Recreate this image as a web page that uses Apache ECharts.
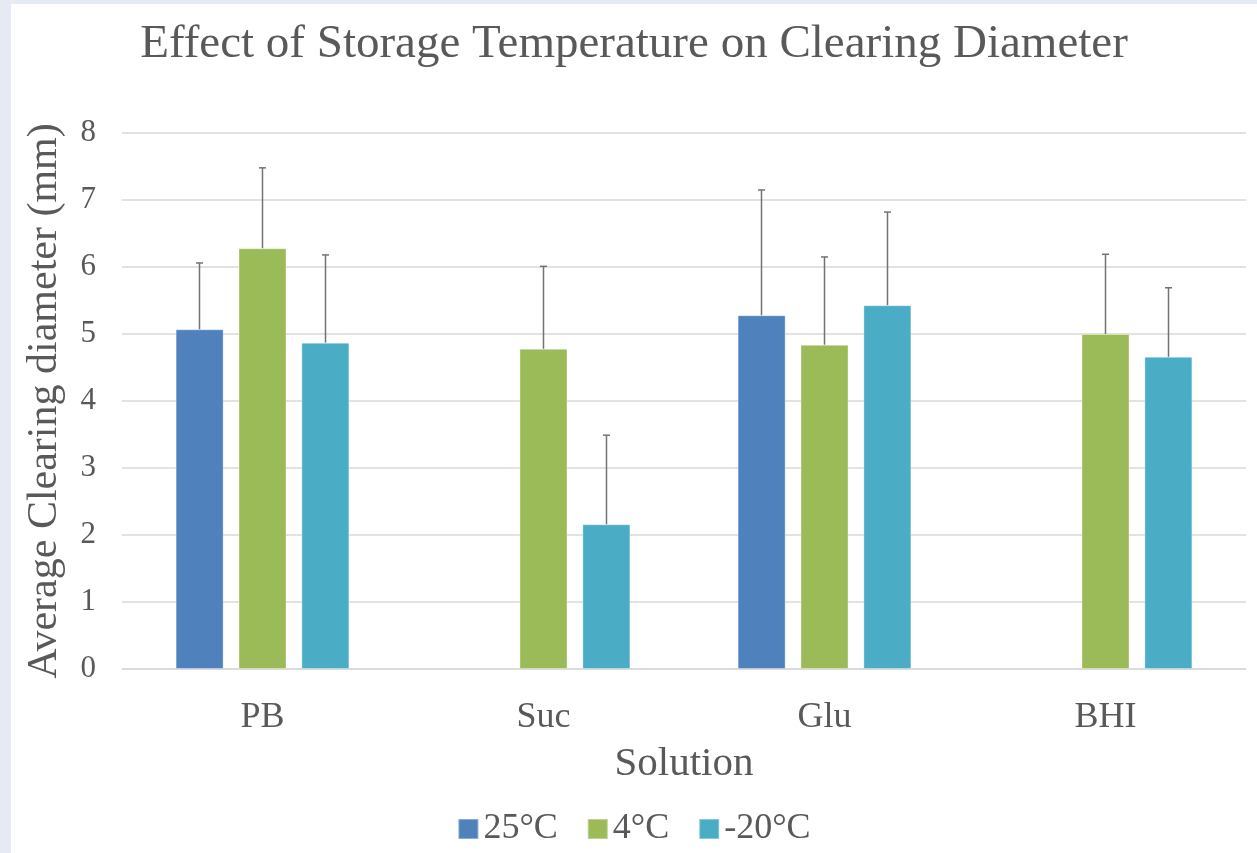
<!DOCTYPE html>
<html>
<head>
<meta charset="utf-8">
<script src="https://cdn.jsdelivr.net/npm/echarts@6/dist/echarts.min.js"></script>
<style>
html,body{margin:0;padding:0;background:#e6ebf3;width:1257px;height:853px;overflow:hidden;}
#chart{position:absolute;left:11px;top:4px;width:1246px;height:849px;background:#ffffff;}
</style>
</head>
<body>
<div id="chart"></div>
<script>
const categories = ['PB', 'Suc', 'Glu', 'BHI'];
const seriesNames = ['25\u00B0C', '4\u00B0C', '-20\u00B0C'];
const mean25 = [5.07, null, 5.28, null];
const mean4 = [6.28, 4.78, 4.84, 5.00];
const meanM20 = [4.87, 2.16, 5.43, 4.66];
const err25 = [0.99, null, 1.87, null];
const err4 = [1.20, 1.23, 1.31, 1.19];
const errM20 = [1.31, 1.33, 1.39, 1.03];
const yTicks = [0, 1, 2, 3, 4, 5, 6, 7, 8];

const colors = ['#4f81bd', '#9bbb59', '#4bacc6'];
const means = [mean25, mean4, meanM20];
const errs = [err25, err4, errM20];
const BAR_W = 48, BAR_STEP = 63;
const textColor = '#595959';
const serif = '"Liberation Serif", "Times New Roman", serif';

const chart = echarts.init(document.getElementById('chart'), null, {renderer: 'canvas'});

const barSeries = means.map((m, i) => ({
  name: seriesNames[i],
  type: 'bar',
  data: m,
  barWidth: BAR_W,
  barGap: '31%',
  itemStyle: {color: colors[i], borderColor: 'rgba(255,255,255,0.35)', borderWidth: 1},
  z: 2
}));

const errSeries = means.map((m, i) => ({
  type: 'custom',
  name: seriesNames[i] + ' err',
  z: 3,
  silent: true,
  data: m.map((v, k) => (v == null ? null : [k, v, v + errs[i][k]])).filter(d => d),
  renderItem: function (params, api) {
    const off = (i - 1) * BAR_STEP;
    const p0 = api.coord([api.value(0), api.value(1)]);
    const p1 = api.coord([api.value(0), api.value(2)]);
    const x = p0[0] + off;
    const style = {stroke: '#737373', lineWidth: 1.5};
    return {
      type: 'group',
      children: [
        {type: 'line', shape: {x1: x, y1: p0[1], x2: x, y2: p1[1]}, style: style},
        {type: 'line', shape: {x1: x - 3.5, y1: p1[1], x2: x + 3.5, y2: p1[1]}, style: style}
      ]
    };
  }
}));

chart.setOption({
  animation: false,
  backgroundColor: '#ffffff',
  title: {
    text: 'Effect of Storage Temperature on Clearing Diameter',
    left: 'center',
    top: 12,
    textStyle: {fontFamily: serif, fontSize: 47, fontWeight: 'normal', color: textColor}
  },
  legend: {
    data: seriesNames,
    bottom: 1,
    left: 'center',
    itemWidth: 20,
    itemHeight: 20,
    itemGap: 29,
    icon: 'rect',
    textStyle: {fontFamily: serif, fontSize: 36, color: textColor, padding: [0, 0, 0, 0]}
  },
  grid: {left: 111, right: 11, top: 129, bottom: 184, containLabel: false},
  xAxis: {
    type: 'category',
    data: categories,
    name: 'Solution',
    nameLocation: 'middle',
    nameGap: 75,
    nameTextStyle: {fontFamily: serif, fontSize: 41, color: textColor},
    axisLine: {show: true, lineStyle: {color: '#d9d9d9', width: 1.5}},
    axisTick: {show: false},
    axisLabel: {fontFamily: serif, fontSize: 36, color: textColor, margin: 31}
  },
  yAxis: {
    type: 'value',
    min: yTicks[0],
    max: yTicks[yTicks.length - 1],
    interval: 1,
    name: 'Average Clearing diameter (mm)',
    nameLocation: 'middle',
    nameGap: 56,
    nameTextStyle: {fontFamily: serif, fontSize: 42, color: textColor},
    axisLine: {show: false},
    axisTick: {show: false},
    axisLabel: {fontFamily: serif, fontSize: 31, color: textColor, margin: 26},
    splitLine: {lineStyle: {color: '#d9d9d9', width: 1.5}}
  },
  series: barSeries.concat(errSeries)
});
</script>
</body>
</html>
